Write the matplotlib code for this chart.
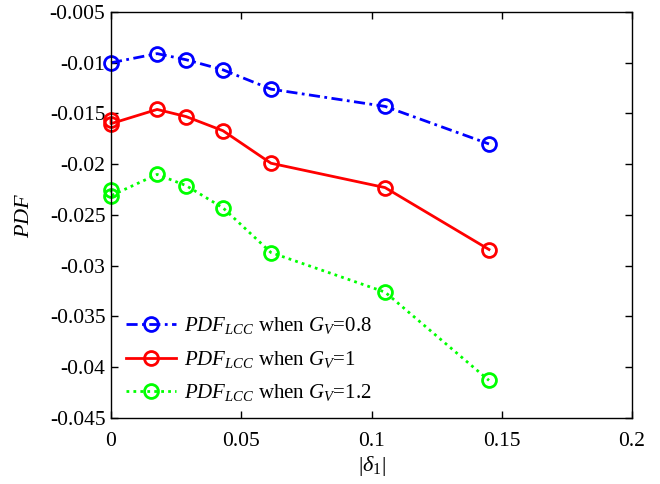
import matplotlib
matplotlib.use("Agg")
import matplotlib.pyplot as plt

plt.rcParams['font.family'] = ['Liberation Serif', 'DejaVu Serif']
plt.rcParams['mathtext.fontset'] = 'custom'
plt.rcParams['mathtext.rm'] = 'Liberation Serif'
plt.rcParams['mathtext.it'] = 'Liberation Serif:italic'
plt.rcParams['mathtext.bf'] = 'Liberation Serif:bold'

x_blue = [0.0, 0.0177, 0.0288, 0.0430, 0.0614, 0.1052, 0.1451]
y_blue = [-0.0100, -0.0091, -0.0097, -0.0107, -0.0126, -0.0143, -0.0180]

x_red = [0.0, 0.0, 0.0177, 0.0288, 0.0430, 0.0614, 0.1052, 0.1451]
y_red = [-0.0156, -0.0160, -0.0146, -0.0153, -0.0167, -0.0199, -0.0223, -0.0284]

x_green = [0.0, 0.0, 0.0177, 0.0288, 0.0430, 0.0614, 0.1052, 0.1451]
y_green = [-0.0225, -0.0231, -0.0210, -0.0221, -0.0243, -0.0287, -0.0326, -0.0413]

labels = [r'$PDF_{LCC}$ when $G_V$=0.8',
          r'$PDF_{LCC}$ when $G_V$=1',
          r'$PDF_{LCC}$ when $G_V$=1.2']

xticks = [0, 0.05, 0.1, 0.15, 0.2]
xticklabels = ['0', '0.05', '0.1', '0.15', '0.2']
yticks = [-0.045, -0.04, -0.035, -0.03, -0.025, -0.02, -0.015, -0.01, -0.005]
yticklabels = ['-0.045', '-0.04', '-0.035', '-0.03', '-0.025', '-0.02', '-0.015', '-0.01', '-0.005']

fig = plt.figure(figsize=(6.6, 4.84), dpi=100)
ax = fig.add_axes([0.1682, 0.1364, 0.7894, 0.8388])

mk = dict(marker='o', markersize=10, markerfacecolor='none', markeredgewidth=2, linewidth=2, clip_on=False)
ax.plot(x_blue, y_blue, color='#0000ff', linestyle=(0, (4, 1.6, 1, 1.6)), label=labels[0], **mk)
ax.plot(x_red, y_red, color='#ff0000', linestyle='-', label=labels[1], **mk)
ax.plot(x_green, y_green, color='#00ff00', linestyle=(0, (1, 1.5)), label=labels[2], **mk)

ax.set_xlim(0, 0.2)
ax.set_ylim(-0.045, -0.005)
ax.set_xticks(xticks)
ax.set_xticklabels(xticklabels)
ax.set_yticks(yticks)
ax.set_yticklabels(yticklabels)
ax.tick_params(direction='in', top=True, right=True, labelsize=15.5, length=5, width=1)
ax.tick_params(axis='x', pad=10)
ax.tick_params(axis='y', pad=4)
for s in ax.spines.values():
    s.set_linewidth(1)

ax.set_xlabel(r'$|\delta_1|$', fontsize=16, labelpad=2)
ax.set_ylabel(r'$PDF$', fontsize=16, labelpad=11)

ax.legend(loc='lower left', frameon=False, fontsize=15, handlelength=2.4,
          handletextpad=0.4, borderaxespad=0.3, borderpad=0.4, labelspacing=0.6)

fig.savefig('out.png', dpi=100)
